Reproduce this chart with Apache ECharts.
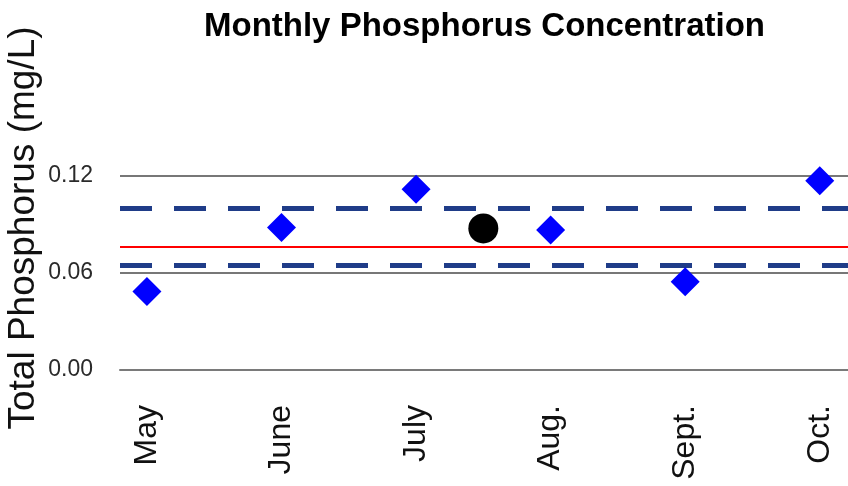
<!DOCTYPE html>
<html>
<head>
<meta charset="utf-8">
<script src="https://cdn.jsdelivr.net/npm/echarts@6/dist/echarts.min.js"></script>
<style>
  html, body { margin: 0; padding: 0; background: #fff; }
  #chart { width: 848px; height: 486px; }
</style>
</head>
<body>
<div id="chart"></div>
<script>
// month positions on the x axis and their labels
var monthPos = [1, 2, 3, 4, 5, 6];
var monthNames = ['May', 'June', 'July', 'Aug.', 'Sept.', 'Oct.'];
// monthly total phosphorus (mg/L)
var monthlyTP = [0.0485, 0.0882, 0.1118, 0.0866, 0.0546, 0.1171];
// the single black point between July and Aug.
var extraPoint = [[3.5, 0.0876]];
// reference lines
var meanLine = 0.0763;
var bandLines = [0.1000, 0.0645];
var yTicks = [0, 0.06, 0.12];

var font = '"Liberation Sans", Arial, sans-serif';

var chart = echarts.init(document.getElementById('chart'));

var option = {
  backgroundColor: '#fff',
  animation: false,
  title: {
    text: 'Monthly Phosphorus Concentration',
    left: 199,
    top: 5,
    textStyle: { fontFamily: font, fontSize: 33, fontWeight: 'bold', color: '#000' }
  },
  graphic: [{
    type: 'text',
    x: 24,
    y: 228,
    rotation: Math.PI / 2,
    style: {
      text: 'Total Phosphorus (mg/L)',
      font: '37px ' + font,
      fill: '#111',
      textAlign: 'center',
      textVerticalAlign: 'middle'
    }
  }],
  grid: { left: 120, right: 0, top: 176, bottom: 116 },
  xAxis: {
    type: 'value',
    min: 0.8,
    max: 6.21,
    splitLine: { show: false },
    axisTick: { show: false },
    axisLine: { show: true, onZero: false, lineStyle: { color: '#7a7a7a', width: 2 } },
    axisLabel: {
      customValues: monthPos,
      rotate: 90,
      margin: 35,
      fontFamily: font,
      fontSize: 32,
      color: '#111',
      formatter: function (v) { return monthNames[monthPos.indexOf(v)] || ''; }
    }
  },
  yAxis: {
    type: 'value',
    min: yTicks[0],
    max: yTicks[yTicks.length - 1],
    interval: 0.06,
    axisLine: { show: false },
    axisTick: { show: false },
    splitLine: { show: true, lineStyle: { color: '#4a4a4a', width: 1.5 } },
    axisLabel: {
      margin: 27,
      fontFamily: font,
      fontSize: 23,
      color: '#2a2a2a',
      padding: [4, 0, 0, 0],
      formatter: function (v) { return v.toFixed(2); }
    }
  },
  series: [
    {
      type: 'scatter',
      name: 'reference',
      data: [],
      silent: true,
      markLine: {
        silent: true,
        symbol: 'none',
        precision: 4,
        label: { show: false },
        data: [
          { yAxis: bandLines[0], lineStyle: { color: '#1f3c88', width: 5, type: [32, 22], opacity: 1 } },
          { yAxis: bandLines[1], lineStyle: { color: '#1f3c88', width: 5, type: [32, 22], opacity: 1 } },
          { yAxis: meanLine, lineStyle: { color: '#ff0000', width: 2, type: 'solid', opacity: 1 } }
        ]
      }
    },
    {
      type: 'scatter',
      name: 'Monthly TP',
      symbol: 'diamond',
      symbolSize: 29,
      itemStyle: { color: '#0000ff', opacity: 1 },
      z: 5,
      data: monthPos.map(function (x, i) { return [x, monthlyTP[i]]; })
    },
    {
      type: 'scatter',
      name: 'Point',
      symbol: 'circle',
      symbolSize: 30,
      itemStyle: { color: '#000', opacity: 1 },
      z: 5,
      data: extraPoint
    }
  ]
};

chart.setOption(option, true);
</script>
</body>
</html>
